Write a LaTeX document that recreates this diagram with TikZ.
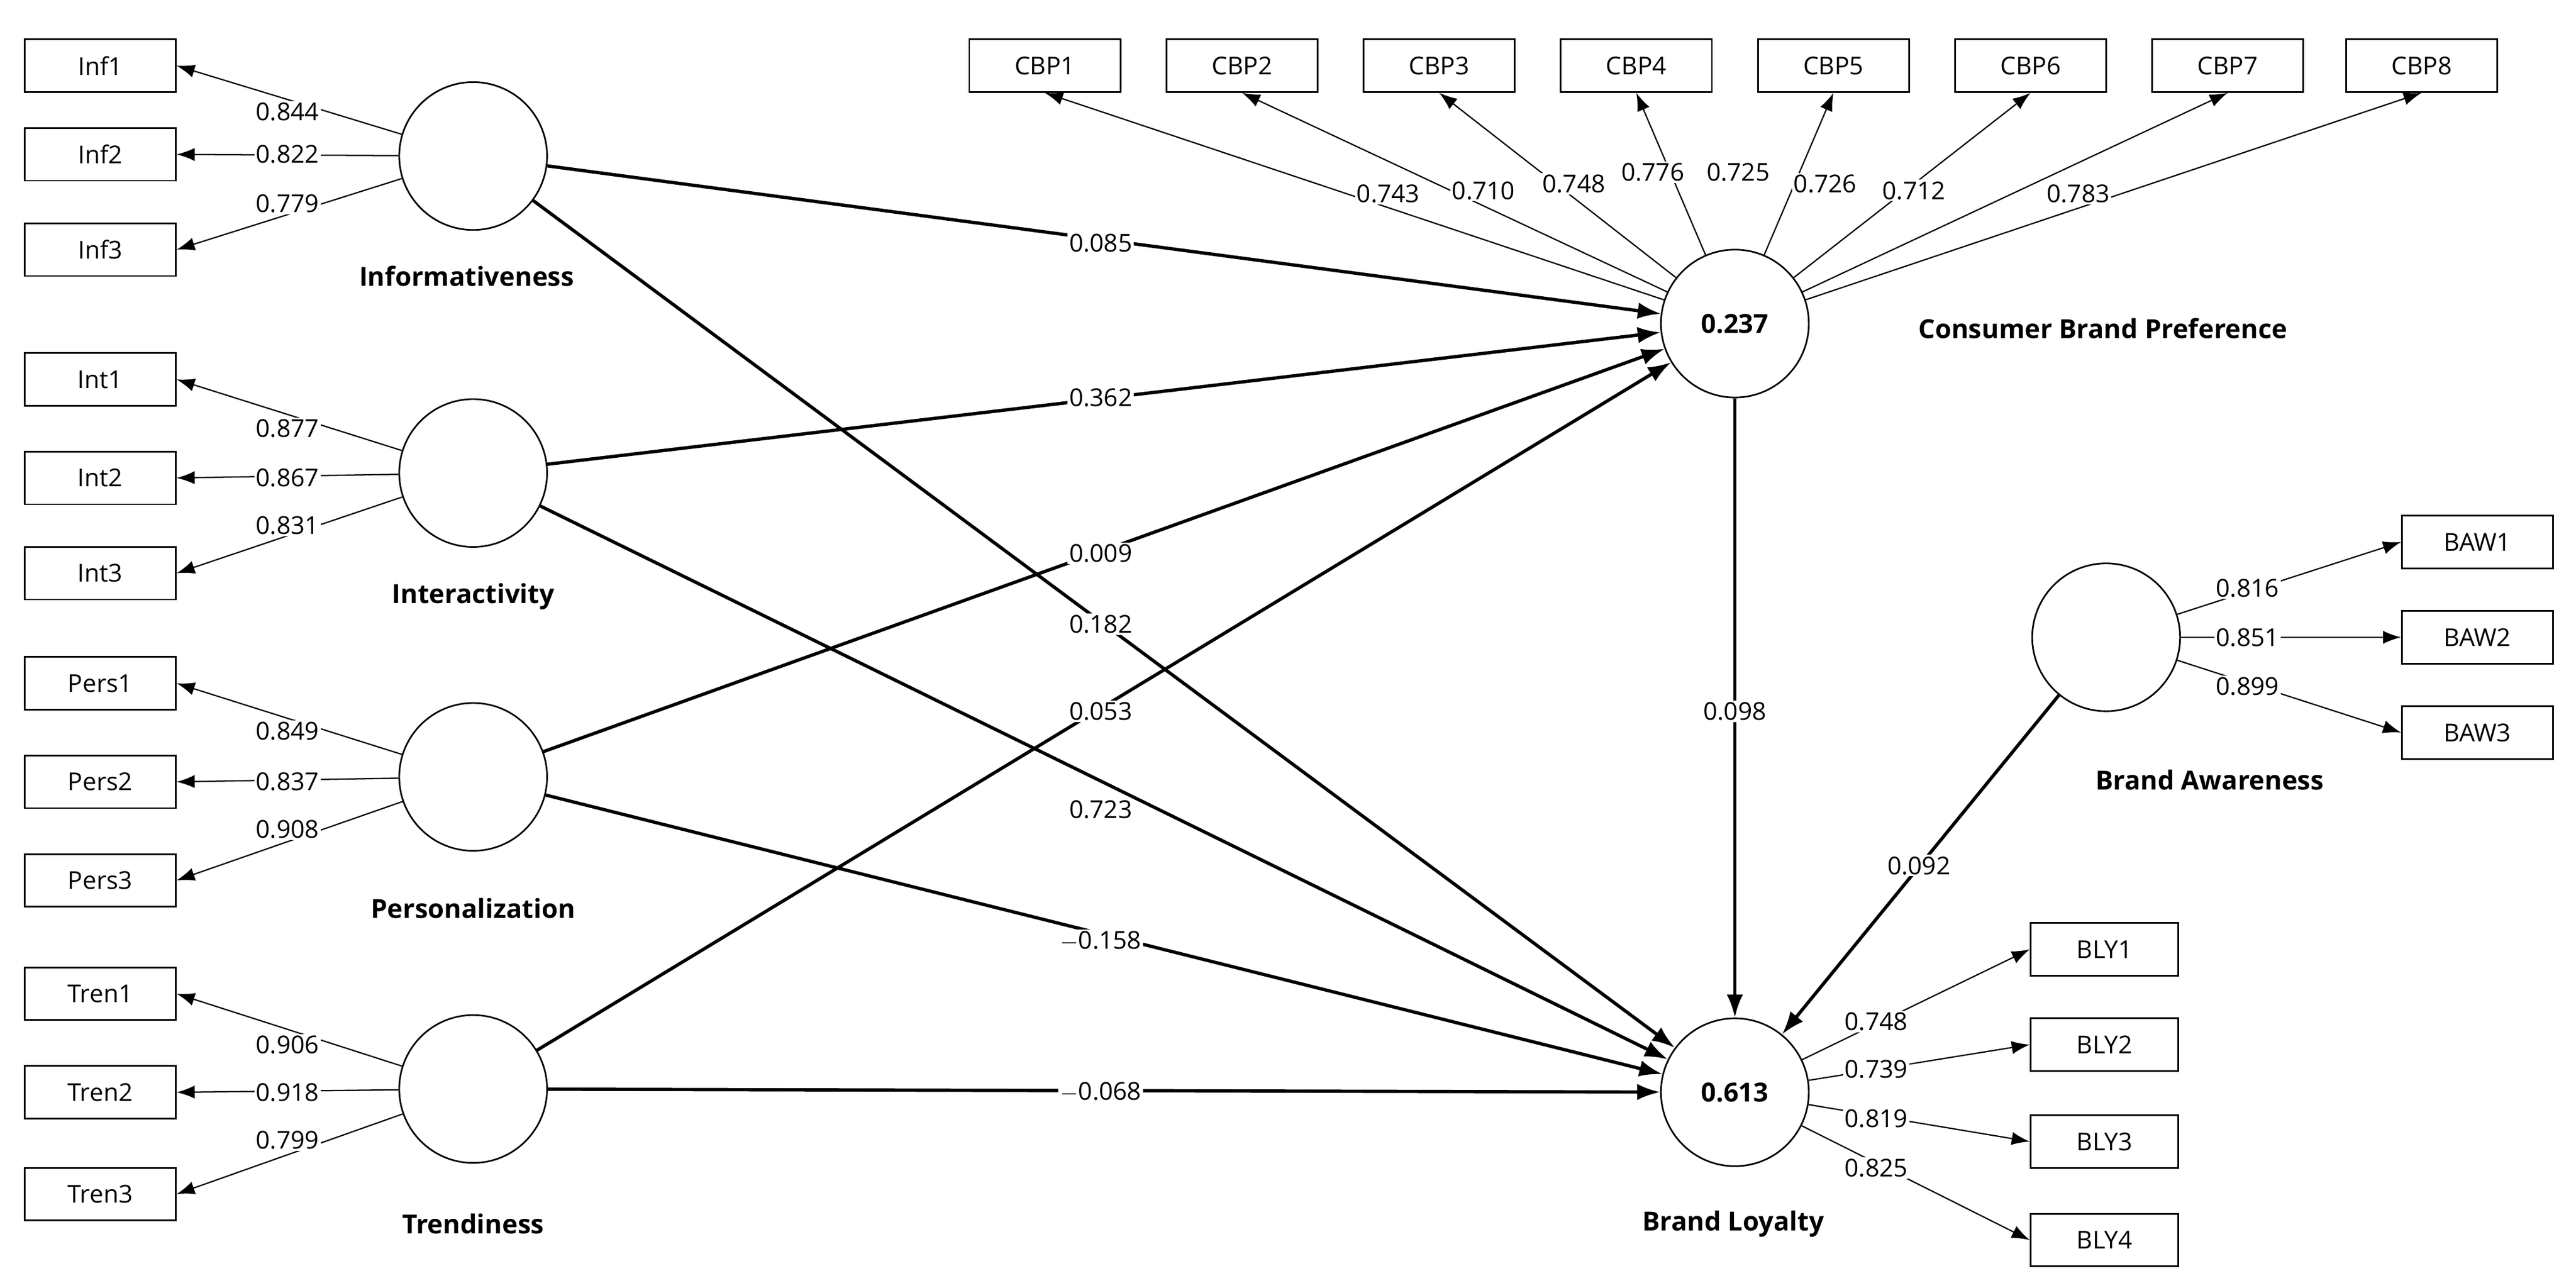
\documentclass[tikz,border=0pt]{standalone}
\usepackage{fontspec}
\setmainfont{Open Sans}
\usetikzlibrary{arrows.meta}
\begin{document}
\begin{tikzpicture}[x=1pt,y=-1pt,
 ind/.style={draw,line width=1pt,minimum width=92pt,minimum height=32pt,inner sep=0pt,font=\fontsize{15}{15}\selectfont},
 lv/.style={draw,circle,line width=1pt,minimum size=90pt,inner sep=0pt,font=\bfseries\fontsize{16}{16}\selectfont},
 lvl/.style={font=\bfseries\fontsize{16}{16}\selectfont},
 ld/.style={-{Latex[length=11pt,width=8pt]},line width=0.8pt},
 pth/.style={-{Latex[length=14pt,width=10pt]},line width=2pt},
 num/.style={fill=white,inner sep=1pt,font=\fontsize{15}{15}\selectfont}]
\fill[white] (0,0) rectangle (1568,784);
% latent variables
\node[lv] (inf) at (288,95) {};
\node[lv] (int) at (288,288) {};
\node[lv] (per) at (288,473) {};
\node[lv] (tre) at (288,663) {};
\node[lv] (cbp) at (1056,197) {0.237};
\node[lv] (bly) at (1056,665) {0.613};
\node[lv] (baw) at (1282,388) {};
\node[lvl] (linf) at (284,168) {Informativeness};
\node[lvl] (lint) at (288,363) {Interactivity};
\node[lvl] (lper) at (288,553) {Personalization};
\node[lvl] (ltre) at (288,745) {Trendiness};
\node[lvl] (lcbp) at (1280,200) {Consumer Brand Preference};
\node[lvl] (lbly) at (1055,745) {Brand Loyalty};
\node[lvl] (lbaw) at (1345,475) {Brand Awareness};
% left indicators
\foreach \n/\y/\v/\ly/\lat in {Inf1/40/0.844/68/inf,Inf2/94/0.822/94/inf,Inf3/152/0.779/124/inf,
 Int1/231/0.877/261/int,Int2/291/0.867/291/int,Int3/349/0.831/320/int,
 Pers1/416/0.849/445/per,Pers2/476/0.837/476/per,Pers3/536/0.908/505/per,
 Tren1/605/0.906/636/tre,Tren2/665/0.918/665/tre,Tren3/727/0.799/694/tre}{
 \node[ind] (\n) at (61,\y) {\n};
 \draw[ld] (\lat) -- (\n.east);
 \node[num] (l\n) at (175,\ly) {\v};
}
% CBP indicators
\foreach \i/\x/\v/\lx/\ly in {1/636/0.743/845/118,2/756/0.710/903/116,3/876/0.748/958/112,4/996/0.776/1006/105,5/1116/0.725/1058/105,6/1236/0.726/1111/112,7/1356/0.712/1165/116,8/1474/0.783/1265/118}{
 \node[ind] (CBP\i) at (\x,40) {CBP\i};
 \draw[ld] (cbp) -- (CBP\i.south);
 \node[num] (lCBP\i) at (\lx,\ly) {\v};
}
% BAW indicators
\foreach \i/\y/\v/\ly in {1/330/0.816/358,2/388/0.851/388,3/446/0.899/418}{
 \node[ind] (BAW\i) at (1508,\y) {BAW\i};
 \draw[ld] (baw) -- (BAW\i.west);
 \node[num] (lBAW\i) at (1368,\ly) {\v};
}
% BLY indicators
\foreach \i/\y/\v/\ly in {1/578/0.748/622,2/636/0.739/651,3/695/0.819/681,4/755/0.825/711}{
 \node[ind,minimum width=90pt] (BLY\i) at (1281,\y) {BLY\i};
 \draw[ld] (bly) -- (BLY\i.west);
 \node[num] (lBLY\i) at (1142,\ly) {\v};
}
% structural paths
\draw[pth] (inf) -- (cbp);
\draw[pth] (int) -- (cbp);
\draw[pth] (per) -- (cbp);
\draw[pth] (tre) -- (cbp);
\draw[pth] (inf) -- (bly);
\draw[pth] (int) -- (bly);
\draw[pth] (per) -- (bly);
\draw[pth] (tre) -- (bly);
\draw[pth] (cbp) -- (bly);
\draw[pth] (baw) -- (bly);
\node[num] (p1) at (670,148) {0.085};
\node[num] (p2) at (670,242) {0.362};
\node[num] (p3) at (670,337) {0.009};
\node[num] (p4) at (670,380) {0.182};
\node[num] (p5) at (670,433) {0.053};
\node[num] (p6) at (670,493) {0.723};
\node[num] (p7) at (670,573) {$-$0.158};
\node[num] (p8) at (670,665) {$-$0.068};
\node[num] (p9) at (1056,433) {0.098};
\node[num] (p10) at (1168,527) {0.092};
\end{tikzpicture}
\end{document}
